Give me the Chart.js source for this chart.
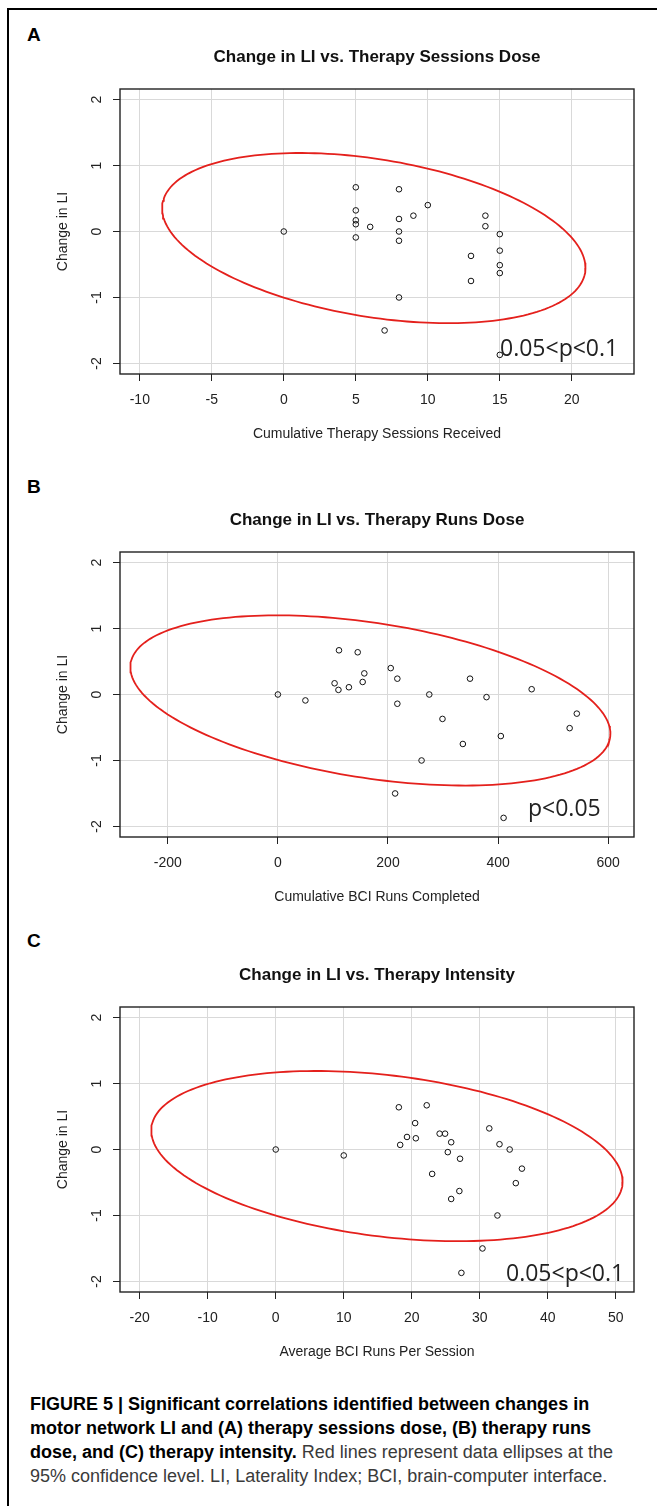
<!DOCTYPE html>
<html>
<head>
<meta charset="utf-8">
<script src="https://cdn.jsdelivr.net/npm/chart.js@4.4.0/dist/chart.umd.min.js"></script>
<style>
body { margin: 0; background: #fff; font-family: "Liberation Sans", Arial, sans-serif; }
#page { position: relative; width: 657px; height: 1506px; overflow: hidden; background: #fff; }
.rule-top { position: absolute; left: 7px; top: 8px; width: 650px; height: 2px; background: #000; }
.rule-left { position: absolute; left: 7px; top: 8px; width: 2px; height: 1498px; background: #000; }
.letter { position: absolute; left: 27px; font-weight: bold; font-size: 19px; line-height: 20px; color: #000; }
.pval { position: absolute; font-family: "Open Sans", sans-serif; font-size: 23px; line-height: 24px; color: #222; white-space: nowrap; }
canvas { position: absolute; left: 0; }
.caption { position: absolute; left: 30px; top: 1392px; font-size: 18px; line-height: 24px; color: #3a3a3a; white-space: nowrap; }
.caption b { color: #000; }
</style>
</head>
<body>
<div id="page">
  <div class="rule-top"></div>
  <div class="rule-left"></div>

  <div class="letter" style="top:25px">A</div>
  <div class="letter" style="top:477px">B</div>
  <div class="letter" style="top:931px">C</div>

  <canvas id="chartA" width="657" height="410" style="top:39px"></canvas>
  <canvas id="chartB" width="657" height="410" style="top:502px"></canvas>
  <canvas id="chartC" width="657" height="410" style="top:957px"></canvas>

  <div class="pval" style="left:500px; top:335px">0.05&lt;p&lt;0.1</div>
  <div class="pval" style="left:528px; top:795px">p&lt;0.05</div>
  <div class="pval" style="left:506px; top:1260px">0.05&lt;p&lt;0.1</div>

  <div class="caption">
    <b>FIGURE 5 | Significant correlations identified between changes in</b><br>
    <b>motor network LI and (A) therapy sessions dose, (B) therapy runs</b><br>
    <b>dose, and (C) therapy intensity.</b> Red lines represent data ellipses at the<br>
    95% confidence level. LI, Laterality Index; BCI, brain-computer interface.
  </div>
</div>

<script>
// change in LI per subject (same subjects in all three panels)
const liChange = [0.67, 0.64, 0.40, 0.32, 0.24, 0.24, 0.19, 0.17, 0.11, 0.08, 0.07, 0, 0, -0.04, -0.09, -0.14, -0.29, -0.37, -0.51, -0.63, -0.75, -1.0, -1.5, -1.87]
const sessions = [5, 8, 10, 5, 9, 14, 8, 5, 5, 14, 6, 0, 8, 15, 5, 8, 15, 13, 15, 15, 13, 8, 7, 15]
const runs = [111, 145, 205, 157, 217, 349, 154, 103, 129, 461, 110, 0, 275, 379, 50, 217, 543, 299, 530, 405, 336, 261, 213, 410]
const intensity = [22.2, 18.1, 20.5, 31.4, 24.1, 24.9, 19.3, 20.6, 25.8, 32.9, 18.3, 0, 34.4, 25.3, 10, 27.1, 36.2, 23.0, 35.3, 27.0, 25.8, 32.6, 30.4, 27.3]

// tick labels
const yTicks = [-2, -1, 0, 1, 2]
const xTicksA = [-10, -5, 0, 5, 10, 15, 20]
const xTicksB = [-200, 0, 200, 400, 600]
const xTicksC = [-20, -10, 0, 10, 20, 30, 40, 50]

// 95% data ellipses: centre, half extents, correlation
const ellipseCentre = [[6.25, -0.10], [168, -0.09], [16.35, -0.10]]
const ellipseHalfWidth = [14.7, 436, 34.65]
const ellipseHalfHeight = [1.29, 1.29, 1.29]
const ellipseCorr = [-0.35, -0.39, -0.30]

function ellipsePoints(i) {
    const [cx, cy] = ellipseCentre[i]
    const phi = Math.acos(ellipseCorr[i])
    const pts = []
    for (let k = 0; k <= 200; k++) {
        const t = k / 200 * 2 * Math.PI
        pts.push({ x: cx + ellipseHalfWidth[i] * Math.cos(t), y: cy + ellipseHalfHeight[i] * Math.cos(t + phi) })
    }
    return pts
}

const fontFam = '"Liberation Sans", Arial, sans-serif'

const frame = {
    id: 'frame',
    afterDatasetsDraw(chart) {
        const a = chart.chartArea
        const ctx = chart.ctx
        ctx.save()
        ctx.strokeStyle = '#222'
        ctx.lineWidth = 1.4
        ctx.strokeRect(a.left, a.top, a.right - a.left, a.bottom - a.top)
        ctx.restore()
    }
}

function makeChart(id, i, title, xTitle, xValues, xTicks, xMin, xMax) {
    const points = xValues.map((v, j) => ({ x: v, y: liChange[j] }))
    new Chart(document.getElementById(id), {
        type: 'scatter',
        data: {
            datasets: [
                {
                    data: points,
                    pointRadius: 2.8,
                    pointBorderWidth: 1,
                    borderColor: '#111',
                    backgroundColor: 'rgba(0,0,0,0)'
                },
                {
                    type: 'line',
                    data: ellipsePoints(i),
                    showLine: true,
                    borderColor: '#e4201c',
                    borderWidth: 1.8,
                    pointRadius: 0,
                    tension: 0,
                    fill: false
                }
            ]
        },
        options: {
            responsive: false,
            animation: false,
            layout: { padding: { left: 0, right: 23, top: 0, bottom: 0 } },
            plugins: {
                legend: { display: false },
                tooltip: { enabled: false },
                title: {
                    display: true,
                    text: title,
                    fullSize: false,
                    color: '#111',
                    font: { family: fontFam, size: 17, weight: 'bold' },
                    padding: { top: 8, bottom: 21.6 }
                }
            },
            scales: {
                x: {
                    type: 'linear',
                    min: xMin,
                    max: xMax,
                    afterBuildTicks: s => { s.ticks = xTicks.map(v => ({ value: v })) },
                    afterFit: s => { s.height = 75 },
                    grid: { color: '#d9d9d9', lineWidth: 1, tickColor: '#222', tickLength: 7 },
                    border: { display: false },
                    ticks: { color: '#222', padding: 10.6, maxRotation: 0, font: { family: fontFam, size: 14 } },
                    title: { display: true, text: xTitle, color: '#222', font: { family: fontFam, size: 14 }, padding: { top: 0, bottom: 6.6 } }
                },
                y: {
                    type: 'linear',
                    min: -2.16,
                    max: 2.16,
                    afterBuildTicks: s => { s.ticks = yTicks.map(v => ({ value: v })) },
                    afterFit: s => { s.width = 120 },
                    grid: { color: '#d9d9d9', lineWidth: 1, tickColor: '#222', tickLength: 7 },
                    border: { display: false },
                    ticks: { color: '#222', padding: 10, minRotation: 90, maxRotation: 90, crossAlign: 'center', font: { family: fontFam, size: 14 } },
                    title: { display: true, text: 'Change in LI', color: '#222', font: { family: fontFam, size: 14 }, padding: { top: 55, bottom: 0 } }
                }
            }
        },
        plugins: [frame]
    })
}

makeChart('chartA', 0, 'Change in LI vs. Therapy Sessions Dose', 'Cumulative Therapy Sessions Received', sessions, xTicksA, -11.375, 24.32)
makeChart('chartB', 1, 'Change in LI vs. Therapy Runs Dose', 'Cumulative BCI Runs Completed', runs, xTicksB, -286.8, 646.9)
makeChart('chartC', 2, 'Change in LI vs. Therapy Intensity', 'Average BCI Runs Per Session', intensity, xTicksC, -22.9, 52.68)
</script>
</body>
</html>
